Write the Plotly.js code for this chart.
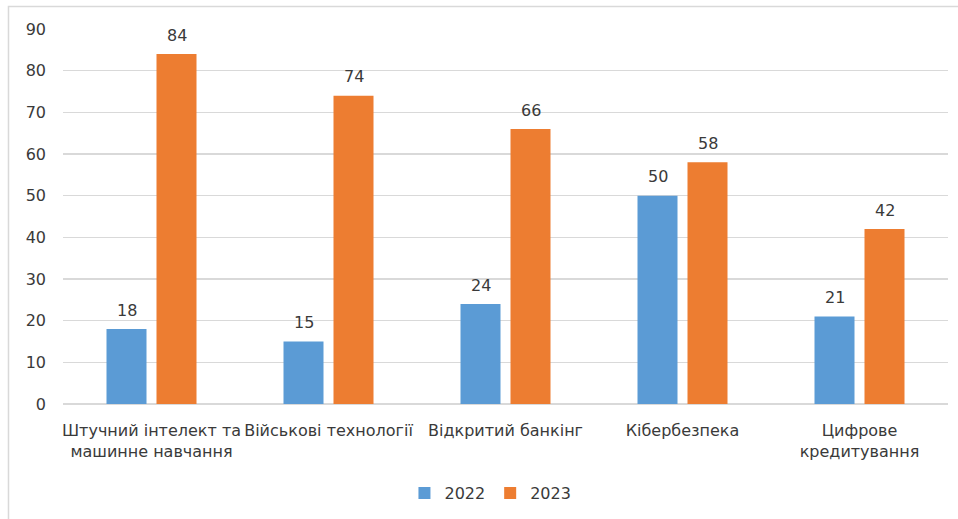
<!DOCTYPE html>
<html>
<head>
<meta charset="utf-8">
<script src="https://cdn.plot.ly/plotly-3.0.1.min.js"></script>
<style>html,body{margin:0;padding:0;background:#fff;}#chart{width:958px;height:519px;}</style>
</head>
<body>
<div id="chart"></div>
<script>
const categories = [
  "Штучний інтелект та<br>машинне навчання",
  "Військові технології",
  "Відкритий банкінг",
  "Кібербезпека",
  "Цифрове<br>кредитування"
];
const seriesNames = ["2022", "2023"];
const values2022 = [18, 15, 24, 50, 21];
const values2023 = [84, 74, 66, 58, 42];
const yTicks = [0, 10, 20, 30, 40, 50, 60, 70, 80, 90];

const FONT = "DejaVu Sans, Open Sans, sans-serif";
const TXT = "#3a3a3a";
const colors = ["#5B9BD5", "#ED7D31"];
const allSeries = [values2022, values2023];

const traces = allSeries.map((vals, i) => ({
  type: "bar",
  name: seriesNames[i],
  x: categories,
  y: vals,
  marker: {color: colors[i]},
  hoverinfo: "x+y"
}));

const annotations = [];
allSeries.forEach((vals, i) => {
  vals.forEach((v, j) => {
    annotations.push({
      x: categories[j], y: v, xref: "x", yref: "y",
      text: String(v), showarrow: false,
      xshift: i === 0 ? -25 : 25, yshift: 19, yanchor: "middle",
      font: {family: FONT, size: 16, color: TXT}
    });
  });
});

const layout = {
  width: 958, height: 519,
  margin: {l: 63, r: 10, t: 29, b: 114},
  paper_bgcolor: "#fff", plot_bgcolor: "#fff",
  barmode: "group", bargap: 0.435, bargroupgap: 0.2,
  font: {family: FONT, size: 16, color: TXT},
  xaxis: {
    type: "category", showgrid: false, ticks: "", showline: false,
    tickfont: {family: FONT, size: 16, color: TXT}, tickangle: 0,
    ticklabelstandoff: 15
  },
  yaxis: {
    range: [0, 90], tickvals: yTicks, ticktext: yTicks.map(String),
    showgrid: true, gridcolor: "#d9d9d9", gridwidth: 1.5,
    zeroline: true, zerolinecolor: "#d9d9d9", zerolinewidth: 1.5,
    ticks: "", tickfont: {family: FONT, size: 16, color: TXT},
    ticklabelstandoff: 16, fixedrange: true
  },
  legend: {
    orientation: "h", x: 0.483, xanchor: "center", y: -0.234, yanchor: "middle",
    font: {family: FONT, size: 16, color: TXT}, itemwidth: 30,
    traceorder: "normal"
  },
  annotations: annotations,
  shapes: [{
    type: "rect", xref: "paper", yref: "paper",
    x0: -0.0616, x1: 1.03, y0: -0.4, y1: 1.0598,
    line: {color: "#d9d9d9", width: 1.5}, fillcolor: "rgba(0,0,0,0)", layer: "below"
  }],
  showlegend: true
};

Plotly.newPlot("chart", traces, layout, {displayModeBar: false, staticPlot: true});
</script>
</body>
</html>
